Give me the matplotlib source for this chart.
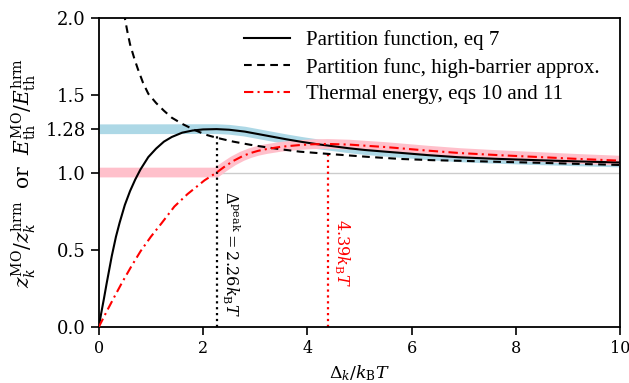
import matplotlib
matplotlib.use("Agg")
import matplotlib.pyplot as plt
import numpy as np

# values
x_part = [0.0, 0.05, 0.1, 0.15, 0.2, 0.25, 0.33, 0.4, 0.5, 0.6, 0.7, 0.8,
          0.95, 1.1, 1.25, 1.4, 1.6, 1.8, 2.0, 2.26, 2.5, 2.8, 3.2, 3.6, 3.9,
          4.2, 4.5, 4.8, 5.1, 5.5, 5.8, 6.3, 6.9, 7.6, 8.5, 9.2, 10.0]
z_part = [0.0, 0.095, 0.185, 0.28, 0.37, 0.46, 0.585, 0.675, 0.79, 0.88,
          0.955, 1.02, 1.10, 1.155, 1.20, 1.23, 1.258, 1.272, 1.279, 1.281,
          1.277, 1.265, 1.24, 1.215, 1.198, 1.183, 1.17, 1.157, 1.146, 1.135,
          1.127, 1.113, 1.099, 1.089, 1.079, 1.072, 1.065]

x_hb = [0.45, 0.5, 0.55, 0.6, 0.68, 0.75, 0.85, 0.95, 1.1, 1.25, 1.4, 1.6,
        1.84, 2.05, 2.26, 2.58, 2.9, 3.22, 3.55, 3.86, 4.2, 4.5, 5.14, 5.78,
        6.4, 6.93, 7.7, 8.46, 9.2, 10.0]
z_hb = [2.12, 2.0, 1.91, 1.83, 1.74, 1.67, 1.58, 1.51, 1.45, 1.40, 1.355,
        1.315, 1.275, 1.245, 1.225, 1.20, 1.18, 1.163, 1.148, 1.135, 1.126,
        1.118, 1.102, 1.088, 1.08, 1.076, 1.069, 1.063, 1.056, 1.049]

x_th = [0.0, 0.15, 0.3, 0.45, 0.62, 0.8, 1.0, 1.2, 1.45, 1.7, 2.03, 2.26,
        2.4, 2.58, 2.75, 2.9, 3.05, 3.22, 3.5, 3.86, 4.1, 4.39, 4.8, 5.14,
        5.5, 5.78, 6.3, 6.93, 7.7, 8.46, 9.2, 10.0]
e_th = [0.0, 0.1, 0.196, 0.29, 0.39, 0.49, 0.585, 0.67, 0.78, 0.86, 0.95,
        1.0, 1.035, 1.075, 1.105, 1.125, 1.14, 1.152, 1.167, 1.178, 1.183,
        1.185, 1.181, 1.173, 1.165, 1.157, 1.142, 1.126, 1.112, 1.10, 1.088,
        1.077]

peak_x, peak_z = 2.26, 1.28
emax_x = 4.39
dot_top = [1.24, 1.12]

yticks = [0.0, 0.5, 1.0, 1.28, 1.5, 2.0]
ytick_labels = ["0.0", "0.5", "1.0", "1.28", "1.5", "2.0"]

plt.rcParams["font.family"] = "DejaVu Serif"
plt.rcParams["mathtext.fontset"] = "dejavuserif"

fig = plt.figure(figsize=(6.29, 3.83), dpi=100)
ax = fig.add_axes([0.157, 0.146, 0.829, 0.807])

xp, zp = np.array(x_part), np.array(z_part)
xt, et = np.array(x_th), np.array(e_th)

# highlight bands
keep = xp >= peak_x
ax.plot(np.r_[0, xp[keep]], np.r_[peak_z, zp[keep]], color="lightblue",
        lw=7, solid_capstyle="butt", solid_joinstyle="round", zorder=1)
keep = xt >= peak_x
ax.plot(np.r_[0, xt[keep]], np.r_[1.0, et[keep]], color="pink",
        lw=7, solid_capstyle="butt", solid_joinstyle="round", zorder=1)
ax.axhline(1.0, color="#cccccc", lw=1, zorder=0.5)

ax.plot(xp, zp, color="black", lw=1.5, label="Partition function, eq 7", zorder=3)
ax.plot(x_hb, z_hb, color="black", lw=1.5, ls=(0, (3.7, 2.6)),
        label="Partition func, high-barrier approx.", zorder=3)
ax.plot(xt, et, color="red", lw=1.5, ls=(0, (4.5, 2, 1, 2)),
        label="Thermal energy, eqs 10 and 11", zorder=3)

ax.plot([peak_x, peak_x], [0, dot_top[0]], color="black", ls=":", lw=1.6, zorder=2)
ax.plot([emax_x, emax_x], [0, dot_top[1]], color="red", ls=":", lw=1.6, zorder=2)

ax.text(peak_x + 0.07, 0.88, r"$\Delta^{\rm peak} = 2.26k_{\rm B}T$",
        rotation=270, ha="left", va="top", fontsize=11.5)
ax.text(emax_x + 0.08, 0.70, r"$4.39k_{\rm B}T$", color="red",
        rotation=270, ha="left", va="top", fontsize=11.5)

ax.set_xlim(0, 10)
ax.set_ylim(0, 2.0)
ax.set_yticks(yticks)
ax.set_yticklabels(ytick_labels)
ax.tick_params(length=6, width=1.2)
ax.tick_params(axis="y", labelsize=13)
ax.tick_params(axis="x", labelsize=11.5)
for s in ax.spines.values():
    s.set_linewidth(1.3)

ax.set_xlabel(r"$\Delta_k/k_{\rm B}T$", fontsize=12.5)
ax.set_ylabel(r"$z_k^{\rm MO}/z_k^{\rm hrm}$  or  $E_{\rm th}^{\rm MO}/E_{\rm th}^{\rm hrm}$",
              fontsize=14.5, labelpad=5)

ax.legend(loc="upper right", frameon=False, handlelength=2.2,
          handletextpad=0.8, labelspacing=0.35, borderaxespad=0.2,
          prop={"family": "Liberation Serif", "size": 15},
          bbox_to_anchor=(0.985, 1.0))

fig.savefig("out.png", dpi=100)
